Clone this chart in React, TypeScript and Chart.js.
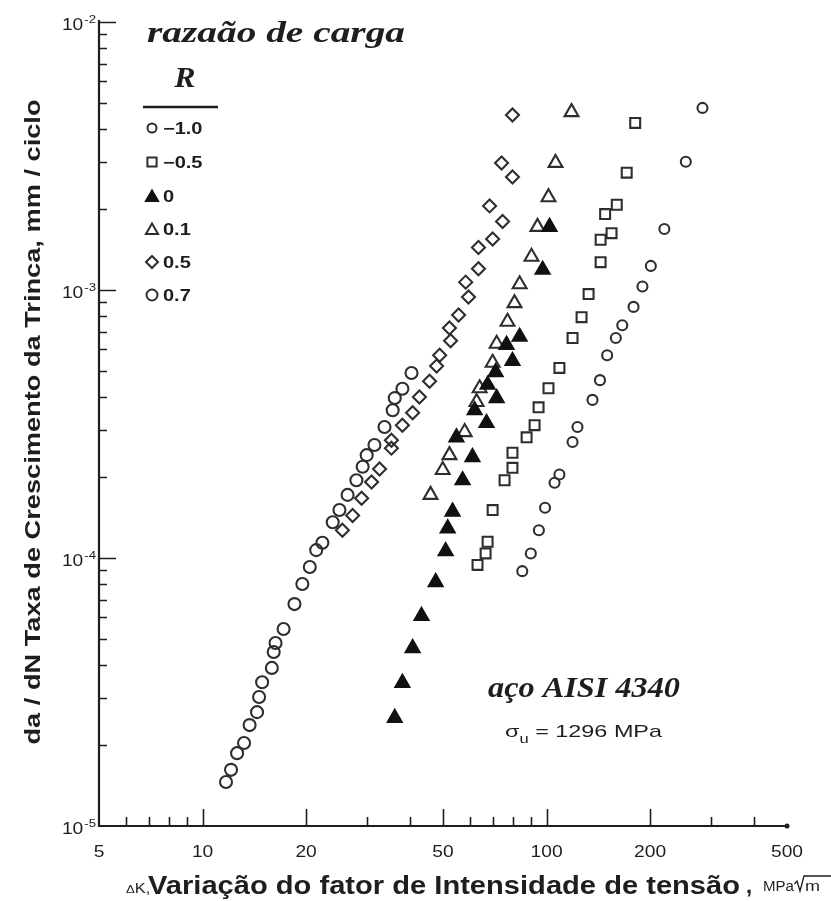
import React, { useEffect, useRef } from 'react';
import { Chart, registerables } from 'chart.js';

Chart.register(...registerables);

// ---------------- data ----------------
const legendTitle = 'razaão de carga';
const legendSymbol = 'R';
const seriesLabels = ['−1.0', '−0.5', '0', '0.1', '0.5', '0.7'];

// R = -1.0
const rm10DK = [284, 254, 220, 201, 190, 179, 166, 159, 150, 143, 136, 123, 119, 109, 105.5, 99, 95, 90, 85];
const rm10Rate = [4.78e-3, 3.01e-3, 1.69e-3, 1.23e-3, 1.03e-3, 8.65e-4, 7.39e-4, 6.62e-4, 5.71e-4, 4.61e-4, 3.89e-4, 3.08e-4, 2.71e-4, 2.05e-4, 1.91e-4, 1.54e-4, 1.27e-4, 1.04e-4, 8.93e-5];

// R = -0.5
const rm05DK = [181, 171, 160, 148, 154.5, 143.6, 143.6, 132.5, 126.4, 119, 109, 101.3, 94.8, 92.3, 87.5, 79.6, 79.6, 75.5, 69.7, 67.4, 66.5, 63];
const rm05Rate = [4.2e-3, 2.74e-3, 2.08e-3, 1.92e-3, 1.63e-3, 1.54e-3, 1.27e-3, 9.66e-4, 7.92e-4, 6.62e-4, 5.12e-4, 4.3e-4, 3.65e-4, 3.13e-4, 2.82e-4, 2.47e-4, 2.17e-4, 1.95e-4, 1.51e-4, 1.15e-4, 1.04e-4, 9.42e-5];

// R = 0
const r00DK = [102, 97.4, 83.5, 79.6, 76.5, 71.1, 67.4, 71.6, 61.8, 66.9, 54.7, 60.9, 57, 53.3, 51.6, 50.9, 47.6, 43.3, 40.8, 38.1, 36.2];
const r00Rate = [1.72e-3, 1.19e-3, 6.69e-4, 5.43e-4, 6.24e-4, 4.94e-4, 4.43e-4, 3.95e-4, 3.56e-4, 3.19e-4, 2.82e-4, 2.38e-4, 1.95e-4, 1.49e-4, 1.29e-4, 1.06e-4, 8.13e-5, 6.08e-5, 4.61e-5, 3.42e-5, 2.53e-5];

// R = 0.1
const r01DK = [118.2, 106.2, 101.3, 94.1, 90.4, 83.5, 80.7, 77, 71.6, 69.7, 63.9, 62.6, 57.8, 52.2, 49.9, 46];
const r01Rate = [4.61e-3, 2.98e-3, 2.22e-3, 1.72e-3, 1.33e-3, 1.05e-3, 8.93e-4, 7.61e-4, 6.3e-4, 5.35e-4, 4.3e-4, 3.82e-4, 2.95e-4, 2.42e-4, 2.13e-4, 1.72e-4];

// R = 0.5
const r05DK = [79.6, 74, 79.6, 68.3, 74.5, 69.7, 63.4, 63.4, 58.2, 59.3, 55.5, 52.2, 52.6, 48.9, 47.9, 45.7, 42.7, 40.8, 38.1, 35.4, 35.4, 32.7, 31, 29, 27.3, 25.5];
const r05Rate = [4.5e-3, 2.98e-3, 2.64e-3, 2.06e-3, 1.8e-3, 1.55e-3, 1.44e-3, 1.2e-3, 1.07e-3, 9.42e-4, 8.07e-4, 7.21e-4, 6.46e-4, 5.71e-4, 5.2e-4, 4.57e-4, 3.99e-4, 3.48e-4, 3.13e-4, 2.75e-4, 2.57e-4, 2.15e-4, 1.92e-4, 1.67e-4, 1.44e-4, 1.27e-4];

// R = 0.7
const r07DK = [40.5, 38.1, 36.2, 35.7, 33.8, 31.6, 30, 29.2, 28, 26.4, 25, 23.9, 22.3, 21.4, 20.5, 19.5, 18.5, 17.2, 16.3, 16.1, 15.9, 14.9, 14.6, 14.4, 13.7, 13.2, 12.6, 12.1, 11.7];
const r07Rate = [4.9e-4, 4.28e-4, 3.95e-4, 3.56e-4, 3.08e-4, 2.64e-4, 2.42e-4, 2.19e-4, 1.95e-4, 1.72e-4, 1.51e-4, 1.36e-4, 1.14e-4, 1.07e-4, 9.25e-5, 8e-5, 6.73e-5, 5.43e-5, 4.82e-5, 4.46e-5, 3.89e-5, 3.44e-5, 3.03e-5, 2.66e-5, 2.38e-5, 2.04e-5, 1.87e-5, 1.62e-5, 1.46e-5];

// axes
const xLabelValues = [5, 10, 20, 50, 100, 200, 500];
const xLabelTexts = ['5', '10', '20', '50', '100', '200', '500'];
const xMajorTickValues = [10, 20, 50, 100, 200];
const xMinorTickValues = [6, 7, 8, 9, 30, 40, 60, 70, 80, 90, 300, 400];
const yDecadeValues = [1e-5, 1e-4, 1e-3, 1e-2];
const yDecadeExponents = ['-5', '-4', '-3', '-2'];
const yMinorMultipliers = [2, 3, 4, 5, 6, 7, 8, 9];

const xTitleDelta = 'Δ';
const xTitleK = 'K,';
const xTitleMain = 'Variação do fator de Intensidade de tensão';
const xTitleUnit = 'MPa';
const xTitleRoot = 'm';
const yTitle = 'da / dN Taxa de Crescimento da Trinca, mm / ciclo';
const noteMaterial = 'aço AISI 4340';
const noteSigma = 'σ';
const noteSub = 'u';
const noteStrength = ' = 1296 MPa';

// ---------------- drawing helpers ----------------
const INK = '#1e1e1e';
const MARK = '#2e2e2e';
const SANS = '"Liberation Sans", Arial, sans-serif';
const NARROW = '"Liberation Sans Narrow", "Liberation Sans", Arial, sans-serif';
const SERIF = '"Liberation Serif", "Times New Roman", serif';

function textWidth(ctx: CanvasRenderingContext2D, text: string, font: string) {
  ctx.save();
  ctx.font = font;
  const w = ctx.measureText(text).width;
  ctx.restore();
  return w;
}

function stretchText(ctx: CanvasRenderingContext2D, text: string, x: number, y: number, font: string, sx: number, align = 'left') {
  const w = textWidth(ctx, text, font);
  let start = x;
  if (align === 'center') start = x - (w * sx) / 2;
  else if (align === 'right') start = x - w * sx;
  ctx.save();
  ctx.font = font;
  ctx.fillStyle = INK;
  ctx.textAlign = 'left';
  ctx.textBaseline = 'alphabetic';
  ctx.translate(start, y);
  ctx.scale(sx, 1);
  ctx.fillText(text, 0, 0);
  ctx.restore();
  return w * sx;
}

function fitText(ctx: CanvasRenderingContext2D, text: string, x: number, y: number, font: string, width: number, align = 'left') {
  const w = textWidth(ctx, text, font);
  return stretchText(ctx, text, x, y, font, width / w, align);
}

function drawMarker(ctx: CanvasRenderingContext2D, style: string, x: number, y: number, r: number, fill: string, stroke: string, lw: number) {
  ctx.save();
  ctx.beginPath();
  if (style === 'circle') ctx.arc(x, y, r, 0, Math.PI * 2);
  else if (style === 'rect') {
    const s = r * Math.SQRT1_2;
    ctx.rect(x - s, y - s, 2 * s, 2 * s);
  } else if (style === 'triangle') {
    const a = (2 * Math.PI) / 3;
    ctx.moveTo(x, y - r);
    ctx.lineTo(x + Math.sin(a) * r, y - Math.cos(a) * r);
    ctx.lineTo(x + Math.sin(2 * a) * r, y - Math.cos(2 * a) * r);
    ctx.closePath();
  } else {
    ctx.moveTo(x - r, y);
    ctx.lineTo(x, y - r);
    ctx.lineTo(x + r, y);
    ctx.lineTo(x, y + r);
    ctx.closePath();
  }
  if (fill && fill !== 'transparent') {
    ctx.fillStyle = fill;
    ctx.fill();
  }
  ctx.lineWidth = lw;
  ctx.strokeStyle = stroke;
  ctx.stroke();
  ctx.restore();
}

const axesPlugin = {
  id: 'paperAxes',
  beforeDatasetsDraw(chart: any) {
    const ctx: CanvasRenderingContext2D = chart.ctx;
    const xs = chart.scales.x;
    const ys = chart.scales.y;
    const { left, right, top, bottom } = chart.chartArea;
    ctx.save();
    ctx.strokeStyle = INK;
    ctx.fillStyle = INK;
    ctx.lineWidth = 2.2;
    ctx.beginPath();
    ctx.moveTo(left, top - 2);
    ctx.lineTo(left, bottom);
    ctx.lineTo(right, bottom);
    ctx.stroke();
    ctx.beginPath();
    ctx.arc(right, bottom, 2.5, 0, Math.PI * 2);
    ctx.fill();

    ctx.lineWidth = 1.6;
    ctx.beginPath();
    xMinorTickValues.forEach((v) => {
      const px = Math.round(xs.getPixelForValue(v)) + 0.5;
      ctx.moveTo(px, bottom);
      ctx.lineTo(px, bottom - 9);
    });
    xMajorTickValues.forEach((v) => {
      const px = Math.round(xs.getPixelForValue(v)) + 0.5;
      ctx.moveTo(px, bottom);
      ctx.lineTo(px, bottom - 17);
    });
    yDecadeValues.forEach((d, i) => {
      if (i < yDecadeValues.length - 1) {
        yMinorMultipliers.forEach((m) => {
          const py = Math.round(ys.getPixelForValue(d * m)) + 0.5;
          ctx.moveTo(left, py);
          ctx.lineTo(left + 8, py);
        });
      }
      if (i > 0) {
        const py = Math.round(ys.getPixelForValue(d)) + 0.5;
        ctx.moveTo(left, py);
        ctx.lineTo(left + 17, py);
      }
    });
    ctx.stroke();
    ctx.restore();

    // x tick labels
    xLabelValues.forEach((v, i) => {
      stretchText(ctx, xLabelTexts[i], xs.getPixelForValue(v), bottom + 31, `16px ${SANS}`, 1.2, 'center');
    });
    // y tick labels (10 with superscript exponent)
    yDecadeValues.forEach((d, i) => {
      const py = ys.getPixelForValue(d);
      const supW = stretchText(ctx, yDecadeExponents[i], left - 3, py + 1, `11px ${SANS}`, 1.2, 'right');
      stretchText(ctx, '10', left - 4 - supW, py + 8, `16px ${SANS}`, 1.2, 'right');
    });
  },
  afterDraw(chart: any) {
    const ctx: CanvasRenderingContext2D = chart.ctx;
    // legend block
    fitText(ctx, legendTitle, 147, 42, `bold italic 30px ${SERIF}`, 258);
    stretchText(ctx, legendSymbol, 185, 87, `bold italic 29px ${SERIF}`, 1.1, 'center');
    ctx.save();
    ctx.strokeStyle = INK;
    ctx.lineWidth = 2.5;
    ctx.beginPath();
    ctx.moveTo(143, 107);
    ctx.lineTo(218, 107);
    ctx.stroke();
    ctx.restore();
    const rows = [128, 162, 196, 229, 262, 295];
    chart.data.datasets.forEach((ds: any, i: number) => {
      drawMarker(ctx, ds.pointStyle, 152, rows[i] + (ds.pointStyle === 'triangle' ? 1.5 : 0), ds.legendRadius, ds.backgroundColor, ds.borderColor, 2);
      stretchText(ctx, ds.label, 163, rows[i] + 6, `bold 16px ${SANS}`, 1.25);
    });

    // material note
    fitText(ctx, noteMaterial, 488, 697, `bold italic 30px ${SERIF}`, 192);
    const f1 = `17px ${SANS}`;
    const f2 = `12px ${SANS}`;
    const total = textWidth(ctx, noteSigma, f1) + textWidth(ctx, noteSub, f2) + textWidth(ctx, noteStrength, f1);
    const s = 157 / total;
    let cx = 505;
    cx += stretchText(ctx, noteSigma, cx, 737, f1, s);
    cx += stretchText(ctx, noteSub, cx, 743, f2, s);
    stretchText(ctx, noteStrength, cx, 737, f1, s);

    // x title
    let tx = 126;
    tx += stretchText(ctx, xTitleDelta, tx, 893, `11px ${SANS}`, 1.2);
    stretchText(ctx, xTitleK, tx, 893, `15px ${NARROW}`, 1.1);
    fitText(ctx, xTitleMain, 148, 894, `bold 25px ${NARROW}`, 592);
    stretchText(ctx, ',', 746, 893, `bold 22px ${NARROW}`, 1);
    let ux = 763;
    ux += fitText(ctx, xTitleUnit, ux, 891, `14px ${NARROW}`, 31);
    ctx.save();
    ctx.strokeStyle = INK;
    ctx.lineWidth = 1.3;
    ctx.beginPath();
    ctx.moveTo(ux + 0.5, 884);
    ctx.lineTo(ux + 3, 881);
    ctx.lineTo(ux + 6, 891);
    ctx.lineTo(ux + 10, 876);
    ctx.lineTo(831, 876);
    ctx.stroke();
    ctx.restore();
    fitText(ctx, xTitleRoot, ux + 11, 891, `14px ${NARROW}`, 15);

    // y title (rotated)
    ctx.save();
    ctx.translate(40, 422);
    ctx.rotate(-Math.PI / 2);
    fitText(ctx, yTitle, 0, 0, `bold 22px ${SANS}`, 645, 'center');
    ctx.restore();
  },
};

function pts(xv: number[], yv: number[]) {
  return xv.map((x, i) => ({ x, y: yv[i] }));
}

export default function App() {
  const ref = useRef<HTMLCanvasElement | null>(null);
  useEffect(() => {
    if (!ref.current) return;
    const common = { showLine: false, pointBorderWidth: 2.1, pointHoverRadius: 0 };
    const chart = new Chart(ref.current, {
      type: 'scatter',
      data: {
        datasets: [
          { ...common, label: seriesLabels[0], data: pts(rm10DK, rm10Rate), pointStyle: 'circle', pointRadius: 5, legendRadius: 4.5, borderColor: MARK, backgroundColor: 'transparent' },
          { ...common, label: seriesLabels[1], data: pts(rm05DK, rm05Rate), pointStyle: 'rect', pointRadius: 7, legendRadius: 6.5, borderColor: MARK, backgroundColor: 'transparent' },
          { ...common, label: seriesLabels[2], data: pts(r00DK, r00Rate), pointStyle: 'triangle', pointRadius: 8, legendRadius: 7, borderColor: '#111111', backgroundColor: '#111111' },
          { ...common, label: seriesLabels[3], data: pts(r01DK, r01Rate), pointStyle: 'triangle', pointRadius: 8, legendRadius: 7, borderColor: MARK, backgroundColor: 'transparent' },
          { ...common, label: seriesLabels[4], data: pts(r05DK, r05Rate), pointStyle: 'rectRot', pointRadius: 6.5, legendRadius: 6, borderColor: MARK, backgroundColor: 'transparent' },
          { ...common, label: seriesLabels[5], data: pts(r07DK, r07Rate), pointStyle: 'circle', pointRadius: 6, legendRadius: 5.5, borderColor: MARK, backgroundColor: 'transparent' },
        ] as any,
      },
      options: {
        responsive: false,
        animation: false,
        events: [],
        devicePixelRatio: 1,
        layout: { padding: { left: 99, right: 44, top: 22, bottom: 75 } },
        plugins: { legend: { display: false }, tooltip: { enabled: false } },
        scales: {
          x: { type: 'logarithmic', min: 5, max: 500, display: false },
          y: { type: 'logarithmic', min: 1e-5, max: 1e-2, display: false },
        },
      } as any,
      plugins: [axesPlugin],
    });
    return () => chart.destroy();
  }, []);
  return (
    <div style={{ position: 'fixed', left: 0, top: 0, width: 831, height: 901, background: '#ffffff' }}>
      <canvas ref={ref} width={831} height={901} style={{ width: 831, height: 901, display: 'block' }} />
    </div>
  );
}
